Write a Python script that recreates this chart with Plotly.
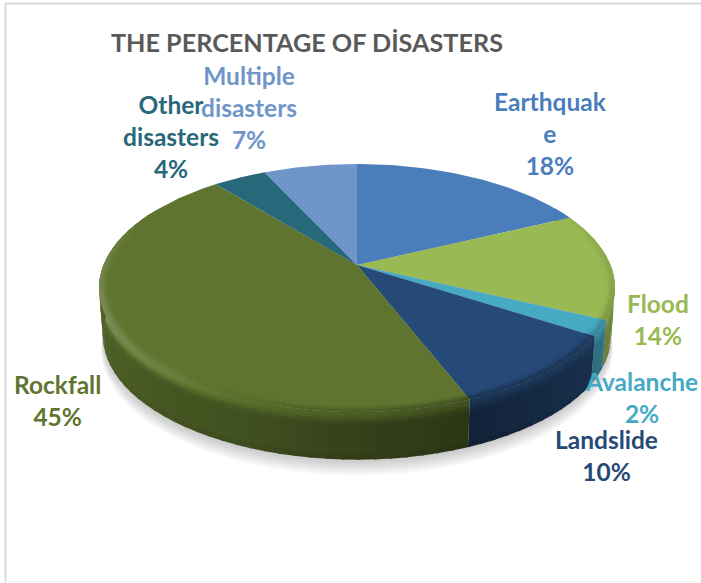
import numpy as np
import plotly.graph_objects as go

categories = ["Earthquake", "Flood", "Avalanche", "Landslide", "Rockfall", "Other disasters", "Multiple disasters"]
values = [18, 14, 2, 10, 45, 4, 7]
label_lines = ["Earthquak<br>e<br>18%", "Flood<br>14%", "Avalanche<br>2%", "Landslide<br>10%",
               "Rockfall<br>45%", "Other<br>disasters<br>4%", "Multiple<br>disasters<br>7%"]
colors = ["#4a7ebb", "#98b954", "#46aac5", "#264a77", "#5f752f", "#27687a", "#7095c8"]
title_text = "THE PERCENTAGE OF DİSASTERS"

# layout constants
label_xy = [(550, 133.5), (658, 319), (641, 397), (606, 455), (57, 400), (171, 136), (249, 107.5)]
CX, CY, R, A, K, DEPTH = 357, 265, 253.5, 119.7, 0.1855, 47

def project(theta_deg, rho=1.0, z=0.0):
    t = np.radians(theta_deg)
    u, v = rho * np.sin(t), rho * np.cos(t)
    w = 1 + K * v
    scale = 1 - 0.015 * z / DEPTH
    return CX + scale * R * u / w, CY - A * v / w + z

def rgb(hexc):
    return np.array([int(hexc[i:i + 2], 16) for i in (1, 3, 5)], float)

def mix(c, f):
    c = rgb(c) * f if f <= 1 else rgb(c) + (255 - rgb(c)) * (f - 1)
    return "rgb(%d,%d,%d)" % tuple(np.clip(c, 0, 255))

def side_shade(th):
    return np.interp(th, [60, 100, 125, 160, 180, 200, 240, 280, 300],
                     [.8, .74, .64, .47, .56, .68, .8, .88, .9])

def rim_value(th):
    return np.interp(th, [60, 100, 130, 160, 190, 220, 250, 275, 300],
                     [1.0, .88, .76, .7, .85, 1.08, 1.18, 1.08, 1.0])

def smooth(s):
    return s * s * (3 - 2 * s)

fig = go.Figure()

def poly(x, y, color):
    fig.add_trace(go.Scatter(
        x=x, y=y, mode="lines", fill="toself", fillcolor=color,
        line=dict(color="rgba(0,0,0,0)", width=0),
        hoverinfo="skip", showlegend=False))

# soft shadow
ring = np.linspace(0, 360, 181)
for i in range(10):
    x, y = project(ring, 1.0 + 0.0012 * i, DEPTH + 1 + i * 1.5)
    poly(x, y, "rgba(90,90,90,0.035)")

# wedge angle limits come from the values
cum = np.cumsum([0] + values) / sum(values) * 360
step = 3.0

# side wall: vertical profile bands (z fraction)
z_edges = [0, .06, .12, .18, .25, .35, .88, 1.0]
def wall_value(mid, k):
    if k <= 4:
        s = smooth(k / 4)
        return rim_value(mid) * (1 - s) + side_shade(mid) * s
    if k == 5:
        return side_shade(mid)
    return side_shade(mid) * 0.95

for i, c in enumerate(colors):
    a0, a1 = cum[i], cum[i + 1]
    n = max(1, int(np.ceil((a1 - a0) / step)))
    edges = np.linspace(a0, a1, n + 1)
    for j, (e0, e1) in enumerate(zip(edges[:-1], edges[1:])):
        mid = (e0 + e1) / 2
        if mid < 60 or mid > 300:
            continue
        over = 0.5 if j < n - 1 else 0.0
        th = np.linspace(e0, e1 + over, 4)
        for k in range(len(z_edges) - 2, -1, -1):
            xa, ya = project(th, 1.0, z_edges[k] * DEPTH)
            xb, yb = project(th, 1.0, z_edges[k + 1] * DEPTH + 0.7)
            poly(np.r_[xa, xb[::-1], xa[0]], np.r_[ya, yb[::-1], ya[0]], mix(c, wall_value(mid, k)))

# top faces with a soft bevel at the rim
rhos = [0.965, 0.975, 0.983, 0.992, 1.0]
for i, c in enumerate(colors):
    th = np.linspace(cum[i], cum[i + 1], max(4, int(cum[i + 1] - cum[i]) + 2))
    x, y = project(th)
    px, py = project(0, 0)
    poly(np.r_[px, x, px], np.r_[py, y, py], c)
    n = max(1, int(np.ceil((cum[i + 1] - cum[i]) / step)))
    edges = np.linspace(cum[i], cum[i + 1], n + 1)
    for j, (e0, e1) in enumerate(zip(edges[:-1], edges[1:])):
        mid = (e0 + e1) / 2
        if mid < 60 or mid > 300:
            continue
        over = 0.5 if j < n - 1 else 0.0
        t2 = np.linspace(e0, e1 + over, 3)
        for r in range(len(rhos) - 2, -1, -1):
            s = smooth((r + 1) / (len(rhos) - 1))
            f = 1 + (rim_value(mid) - 1) * s
            xa, ya = project(t2, rhos[r] - 0.002)
            xb, yb = project(t2, rhos[r + 1])
            poly(np.r_[xa, xb[::-1], xa[0]], np.r_[ya, yb[::-1], ya[0]], mix(c, f))

for txt, (lx, ly), c in zip(label_lines, label_xy, colors):
    fig.add_annotation(x=lx, y=ly, text=txt, showarrow=False, align="center",
                       xanchor="center", yanchor="middle",
                       font=dict(family="Lato", size=24.5, color=c, weight="bold"))

fig.add_annotation(x=109, y=42, text=title_text, showarrow=False, xanchor="left", yanchor="middle",
                   font=dict(family="Lato", size=25.2, color="#595959", weight="bold"))

# picture frame
fig.add_shape(type="line", x0=5, x1=701, y0=3.5, y1=3.5, line=dict(color="#d9d9d9", width=2))
fig.add_shape(type="line", x0=5.5, x1=5.5, y0=3, y1=583, line=dict(color="#d9d9d9", width=2))
fig.add_shape(type="line", x0=5, x1=701, y0=581.5, y1=581.5, line=dict(color="#f4f4f4", width=1))

fig.update_layout(
    width=701, height=583, autosize=False, margin=dict(l=0, r=0, t=0, b=0),
    paper_bgcolor="white", plot_bgcolor="white", showlegend=False,
    xaxis=dict(range=[0, 701], visible=False, fixedrange=True),
    yaxis=dict(range=[583, 0], visible=False, fixedrange=True),
)
fig.write_html("out.html", config=dict(displayModeBar=False),
               post_script="document.body.style.margin='0';document.body.style.overflow='hidden';")
